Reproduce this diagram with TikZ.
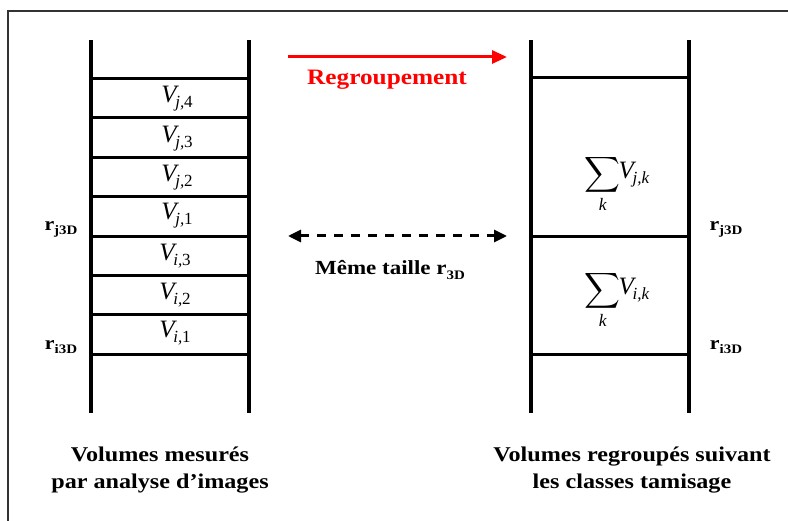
\documentclass[tikz,border=0pt]{standalone}
\usepackage{amsmath}
\usepackage{fontspec}
\setmainfont{Liberation Serif}
\newfontfamily\widefont[FakeStretch=1.15]{Liberation Serif}
\usetikzlibrary{arrows.meta}
\tikzset{
  rail/.style={line width=3.3pt, black},
  rung/.style={line width=3pt, black},
  vlab/.style={font=\fontsize{25}{27}\selectfont\itshape, inner sep=0pt},
  rlab/.style={font=\widefont\fontsize{19}{21}\selectfont\bfseries, inner sep=0pt},
  caption/.style={font=\widefont\fontsize{21}{27}\selectfont\bfseries, align=center, inner sep=0pt},
}
\newcommand{\Vlab}[2]{V\kern-0.05em\raisebox{-0.45ex}{\fontsize{17}{18}\selectfont #1,\upshape #2}}
\newcommand{\Rlab}[1]{r\raisebox{-0.45ex}{\fontsize{13}{14}\selectfont #1}}
\begin{document}
\begin{tikzpicture}[x=1pt,y=-1pt]
\useasboundingbox (0,0) rectangle (788,521);
% frame
\draw[line width=2pt, black!80] (8,521) -- (8,11) -- (788,11);
% left ladder
\draw[rail] (91,40) -- (91,413);
\draw[rail] (249,40) -- (249,413);
\foreach \y in {79,118,158,197,237,276,315,355}
  \draw[rung] (91,\y) -- (249,\y);
\node[vlab] (vj4) at (177,99) {\Vlab{j}{4}};
\node[vlab] (vj3) at (177,139) {\Vlab{j}{3}};
\node[vlab] (vj2) at (177,178) {\Vlab{j}{2}};
\node[vlab] (vj1) at (177,216) {\Vlab{j}{1}};
\node[vlab] (vi3) at (175,256) {\Vlab{i}{3}};
\node[vlab] (vi2) at (175,295) {\Vlab{i}{2}};
\node[vlab] (vi1) at (175,333) {\Vlab{i}{1}};
\node[rlab] (rjl) at (61,229) {\Rlab{j3D}};
\node[rlab] (ril) at (61,347) {\Rlab{i3D}};
% right ladder
\draw[rail] (531,40) -- (531,413);
\draw[rail] (689,40) -- (689,413);
\foreach \y in {78,237,355}
  \draw[rung] (531,\y) -- (689,\y);
\node[vlab] (sj) at (617,184) {$\displaystyle\sum_{\mathit{k}}$\kern-0.08em\raisebox{0.2ex}{\Vlab{j}{\itshape k}}};
\node[vlab] (si) at (617,300) {$\displaystyle\sum_{\mathit{k}}$\kern-0.08em\raisebox{0.2ex}{\Vlab{i}{\itshape k}}};
\node[rlab] (rjr) at (726,229) {\Rlab{j3D}};
\node[rlab] (rir) at (726,347) {\Rlab{i3D}};
% arrows
\coordinate (ra) at (288,57);
\coordinate (rb) at (507,57);
\draw[red, line width=3pt, -{Triangle[length=15pt,width=13pt]}] (ra) -- (rb);
\node[font=\widefont\fontsize{22}{24}\selectfont\bfseries, text=red, inner sep=0pt] (regr) at (387,80) {Regroupement};
\coordinate (da) at (288,236);
\coordinate (db) at (507,236);
\draw[black, line width=3pt, dash pattern=on 9pt off 8pt, {Triangle[length=13pt,width=12pt]}-{Triangle[length=13pt,width=12pt]}] (da) -- (db);
\node[font=\widefont\fontsize{20}{22}\selectfont\bfseries, inner sep=0pt] (meme) at (390,270) {Même taille \Rlab{3D}};
% captions
\node[caption] (capl) at (160,470) {Volumes mesurés\\par analyse d’images};
\node[caption] (capr) at (632,470) {Volumes regroupés suivant\\les classes tamisage};
\end{tikzpicture}
\end{document}
